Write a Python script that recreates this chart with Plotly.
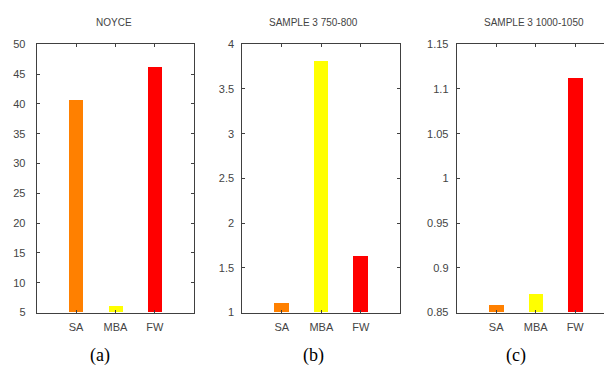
import plotly.graph_objects as go

categories = ["SA", "MBA", "FW"]
colors = ["#FF8000", "#FFFF00", "#FF0000"]

noyce_vals = [40.6, 6.0, 46.1]
s750_vals = [1.11, 3.81, 1.63]
s1000_vals = [0.858, 0.871, 1.112]

titles = ["NOYCE", "SAMPLE 3 750-800", "SAMPLE 3 1000-1050"]
panel_labels = ["(a)", "(b)", "(c)"]

W, H = 604, 367
axcol = "#404040"
txtcol = "#444444"

fig = go.Figure()

xpos = [1, 2, 3]
panels = [
    dict(vals=noyce_vals, yr=[5, 50], dt=5, xd=[36.7, 194.3], xr=[0, 4], stand=8),
    dict(vals=s750_vals, yr=[1, 4], dt=0.5, xd=[242.3, 400.3], xr=[0, 4], stand=5),
    dict(vals=s1000_vals, yr=[0.85, 1.15], dt=0.05, xd=[456.7, 604], xr=[0, 4 * (604 - 456.7) / 158], stand=5),
]

ytop, ybot = 39.5, 317.0
title_x = [114, 313.5, 534.3]
label_x = [100, 313, 516]

for i, p in enumerate(panels):
    n = "" if i == 0 else str(i + 1)
    fig.add_trace(go.Bar(
        x=xpos, y=[v - p["yr"][0] for v in p["vals"]], base=p["yr"][0],
        marker=dict(color=colors, line=dict(width=0)),
        width=0.355, xaxis="x" + n, yaxis="y" + n, showlegend=False,
    ))
    xd = [p["xd"][0] / W, min(1.0, p["xd"][1] / W)]
    yd = [1 - ybot / H, 1 - ytop / H]
    if p["dt"] >= 1:
        tv = list(range(int(p["yr"][0]), int(p["yr"][1]) + 1, int(p["dt"])))
        tt = [str(v) for v in tv]
    else:
        k = round((p["yr"][1] - p["yr"][0]) / p["dt"])
        tv = [round(p["yr"][0] + j * p["dt"], 4) for j in range(k + 1)]
        tt = [("%g" % v) for v in tv]
    fig.layout["xaxis" + n] = dict(
        domain=xd, range=p["xr"], tickvals=xpos, ticktext=categories,
        anchor="y" + n, showline=True, linecolor=axcol, linewidth=1,
        mirror="ticks", ticks="inside", ticklen=3, tickcolor=axcol,
        showgrid=False, zeroline=False, fixedrange=True, ticklabelstandoff=4,
        tickfont=dict(family="Liberation Sans, Arial", size=11, color=txtcol),
    )
    fig.layout["yaxis" + n] = dict(
        domain=yd, range=p["yr"], tickvals=tv, ticktext=tt,
        anchor="x" + n, showline=True, linecolor=axcol, linewidth=1,
        mirror=("ticks" if i < 2 else False), ticks="inside", ticklen=3, tickcolor=axcol,
        showgrid=False, zeroline=False, ticklabelstandoff=p["stand"],
        tickfont=dict(family="Liberation Sans, Arial", size=11, color=txtcol),
    )
    fig.add_annotation(x=title_x[i] / W, y=1 - 17.5 / H, xref="paper", yref="paper",
                       text=titles[i], showarrow=False, xanchor="center", yanchor="middle",
                       font=dict(family="Liberation Sans, Arial", size=10, color=txtcol))
    fig.add_annotation(x=label_x[i] / W, y=1 - 361 / H, xref="paper", yref="paper",
                       text=panel_labels[i], showarrow=False, xanchor="center", yanchor="middle",
                       font=dict(family="Liberation Serif, Times New Roman", size=18, color="black"))

fig.update_layout(width=W, height=H, margin=dict(l=0, r=0, t=0, b=0),
                  paper_bgcolor="white", plot_bgcolor="white", bargap=0)
fig.write_html("out.html")
